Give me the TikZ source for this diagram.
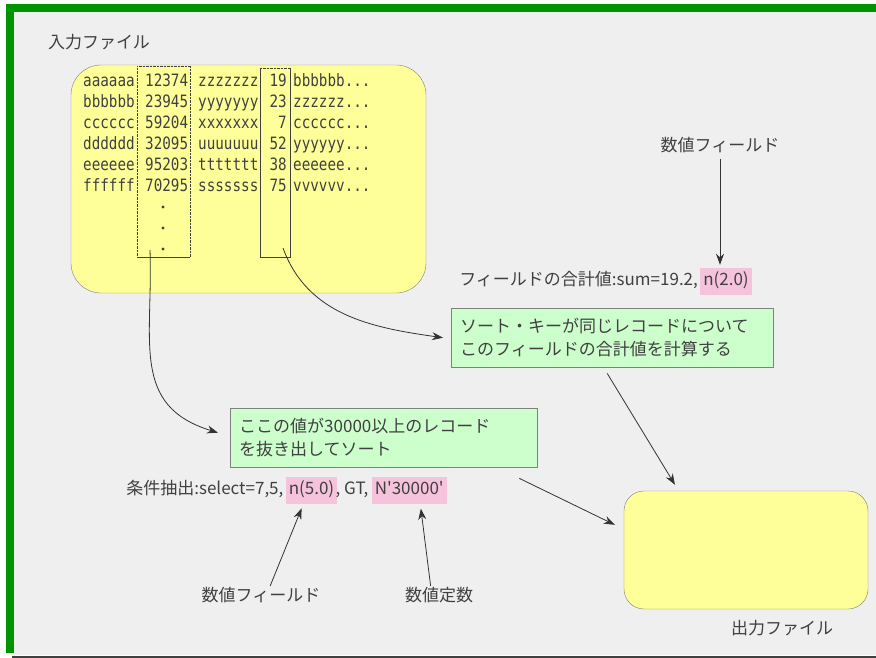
\documentclass[tikz,border=0pt]{standalone}
\usepackage{fontspec}
\setmainfont{Noto Sans CJK JP}
\newfontfamily\recfont[FakeStretch=0.84]{DejaVu Sans Mono}
\usetikzlibrary{positioning,arrows.meta}

\definecolor{frame}{HTML}{009400}
\definecolor{panel}{HTML}{EFEFEF}
\definecolor{filefill}{HTML}{FFFF99}
\definecolor{notefill}{HTML}{CCFFCC}
\definecolor{keypink}{HTML}{F5C4DC}
\definecolor{ink}{HTML}{404040}

\begin{document}
\begin{tikzpicture}[x=1pt,y=-1pt,
		txt/.style={text=ink,font=\fontsize{17}{20}\selectfont,inner sep=0pt,text height=12pt,text depth=4pt},
		rec/.style={text=ink,font=\recfont\fontsize{17}{20}\selectfont,inner sep=0pt,text height=12pt,text depth=3pt},
		hl/.style={txt,fill=keypink,inner xsep=3pt,inner ysep=5.5pt},
		note/.style={draw=gray,fill=notefill,text=ink,align=left,anchor=north west,
			font=\fontsize{17}{23}\selectfont,inner xsep=9pt,minimum height=59pt},
		file/.style={draw=gray,fill=filefill},
		arr/.style={draw=black!80,line width=0.8pt,-{Stealth[length=11pt,width=8pt]}}
		]
		\useasboundingbox (0,0) rectangle (876,658);
		\fill[white] (0,0) rectangle (876,658);
		\fill[frame] (6,4) rectangle (876,653);
		\fill[panel] (14,12) rectangle (876,655);
		\draw[black!75,line width=2pt] (12,656.5) -- (876,656.5);
		
		% input file with its records
		\node[txt] (inlbl) at (99,45) {入力ファイル};
		\node[file,rounded corners=30pt,minimum width=355pt,minimum height=228pt] (infile) at (248.5,179) {};
		\node[inner sep=0pt,minimum width=53pt,minimum height=191pt] (keycol) at (163.5,161.5) {};
		\node[inner sep=0pt,minimum width=30pt,minimum height=189pt] (sumcol) at (275,162.5) {};
		\draw[ink,densely dotted] (keycol.south west) -- (keycol.north west) -- (keycol.north east) -- (keycol.south east);
		\draw[ink] (keycol.south west) -- (keycol.south east);
		\draw[ink,densely dotted] (sumcol.north west) -- (sumcol.north east);
		\draw[ink] (sumcol.north east) -- (sumcol.south east) -- (sumcol.south west) -- (sumcol.north west);
		
		\foreach \k/\v/\f/\s/\r [count=\i] in {aaaaaa/12374/zzzzzzz/19/bbbbbb,
			bbbbbb/23945/yyyyyyy/23/zzzzzz, cccccc/59204/xxxxxxx/7/cccccc,
			dddddd/32095/uuuuuuu/52/yyyyyy, eeeeee/95203/ttttttt/38/eeeeee,
			ffffff/70295/sssssss/75/vvvvvv} {
			\node[rec,anchor=west] (k\i) at (83,61+21*\i) {\k};
			\node[rec,anchor=west] (v\i) at (145,61+21*\i) {\v};
			\node[rec,anchor=west] (f\i) at (198,61+21*\i) {\f};
			\node[rec,anchor=east] (s\i) at (287,61+21*\i) {\s};
			\node[rec,anchor=west] (r\i) at (293,61+21*\i) {\r...};
		}
		\foreach \y in {207,228,249}
			\fill[ink] (163,\y) circle (1.6pt);
		
		% sum field
		\node[txt] (fldtop) at (720,148) {数値フィールド};
		\node[hl] (sumfld) at (726,281.5) {n(2.0)};
		\node[txt,left=2pt of sumfld] (sumlbl) {フィールドの合計値:sum=19.2,};
		\node[note,text width=304pt] (sumnote) at (451,308)
			{ソート・キーが同じレコードについて\\このフィールドの合計値を計算する};
		
		% select condition
		\node[note,text width=289pt] (selnote) at (230,408)
			{ここの値が30000以上のレコード\\を抜き出してソート};
		\node[hl] (selfld) at (311.5,490) {n(5.0)};
		\node[txt,left=2pt of selfld] (sellbl) {条件抽出:select=7,5,};
		\node[txt,right=-2pt of selfld] (selop) {, GT,};
		\node[hl,right=3pt of selop] (selval) {N\textquotesingle30000\textquotesingle};
		\node[txt] (fldbot) at (261,597) {数値フィールド};
		\node[txt] (constlbl) at (439,597) {数値定数};
		
		% output file
		\node[file,rounded corners=20pt,minimum width=244pt,minimum height=118pt] (outfile) at (746,550) {};
		\node[txt] (outlbl) at (782,630) {出力ファイル};
		
		\coordinate (keytail) at (150,250);
		\coordinate (sumtail) at (283,248);
		\draw[arr] (keytail) to[out=-88,in=163,looseness=1.2] ([xshift=-12pt,yshift=5pt]selnote.west);
		\draw[arr] (sumtail) to[out=-70,in=172] ([xshift=-8pt]sumnote.west);
		\draw[arr,shorten <=3pt] (fldtop.south) -- ([xshift=-6pt,yshift=3pt]sumfld.north);
		\draw[arr] ([xshift=-5pt,yshift=-6pt]sumnote.south) -- ([xshift=-71pt,yshift=6pt]outfile.north);
		\draw[arr] ([xshift=-18pt,yshift=-11pt]selnote.south east) -- ([xshift=-9pt,yshift=-34pt]outfile.north west);
		\draw[arr,shorten <=3pt,shorten >=5pt] ([xshift=8pt]fldbot.north) -- ([xshift=-8pt]selfld.south);
		\draw[arr,shorten <=3pt,shorten >=5pt] ([xshift=-8pt]constlbl.north) -- ([xshift=11pt]selval.south);
	\end{tikzpicture}
\end{document}
